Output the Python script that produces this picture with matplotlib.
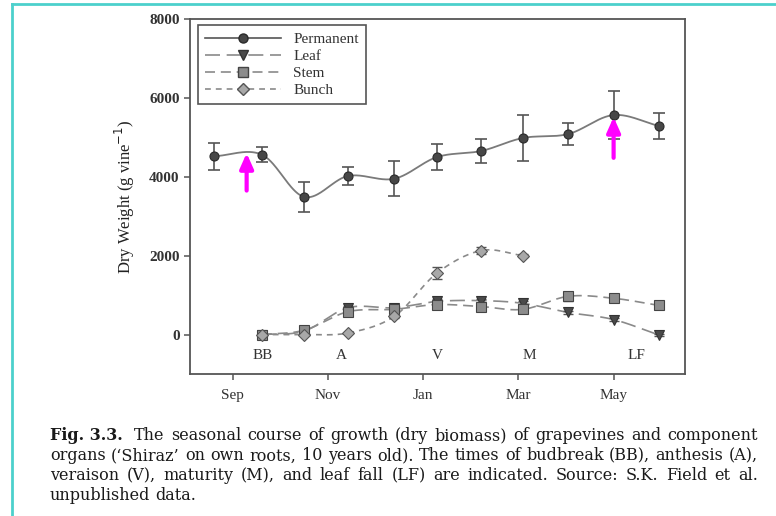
import numpy as np
import matplotlib
matplotlib.use("Agg")
import matplotlib.pyplot as plt

# ---------------- data ----------------
month_ticks = [0, 2, 4, 6, 8]
month_labels = ["Sep", "Nov", "Jan", "Mar", "May"]

perm_x = [-0.4, 0.61, 1.5, 2.42, 3.39, 4.29, 5.22, 6.1, 7.05, 8.0, 8.95]
perm_y = [4520, 4560, 3490, 4020, 3950, 4500, 4655, 4985, 5085, 5565, 5290]
perm_err = [340, 190, 390, 240, 440, 320, 315, 590, 280, 610, 330]

leaf_x = [0.61, 1.5, 2.42, 3.39, 4.29, 5.22, 6.1, 7.05, 8.0, 8.95]
leaf_y = [0, 90, 680, 680, 840, 860, 790, 560, 380, -10]
leaf_err = [0, 30, 40, 40, 50, 50, 60, 40, 40, 30]

stem_x = [0.61, 1.5, 2.42, 3.39, 4.29, 5.22, 6.1, 7.05, 8.0, 8.95]
stem_y = [0, 110, 580, 640, 760, 710, 640, 970, 920, 740]
stem_err = [0, 30, 40, 40, 40, 40, 50, 120, 40, 50]

bunch_x = [0.61, 1.5, 2.42, 3.39, 4.29, 5.22, 6.1]
bunch_y = [0, 0, 40, 460, 1560, 2130, 2000]
bunch_err = [0, 0, 0, 40, 150, 80, 40]

stage_labels = ["BB", "A", "V", "M", "LF"]
stage_x = [0.63, 2.27, 4.29, 6.23, 8.48]

arrow_x = [0.29, 8.0]
arrow_tip = [4600, 5515]
arrow_tail = [3650, 4480]

caption_lines = [
    ["Fig. 3.3.", "The seasonal course of growth (dry biomass) of grapevines and component"],
    ["", "organs (\u2018Shiraz\u2019 on own roots, 10 years old). The times of budbreak (BB), anthesis (A),"],
    ["", "veraison (V), maturity (M), and leaf fall (LF) are indicated. Source: S.K. Field et al."],
    ["", "unpublished data."],
]


def smooth_curve(x, y, n=40):
    """Catmull-Rom style curve through the given points (drawing only)."""
    x = np.asarray(x, float)
    y = np.asarray(y, float)
    k = len(x)
    mx = np.zeros(k)
    my = np.zeros(k)
    for i in range(k):
        a = max(i - 1, 0)
        b = min(i + 1, k - 1)
        mx[i] = (x[b] - x[a]) / (b - a) if b != a else 0
        my[i] = (y[b] - y[a]) / (b - a) if b != a else 0
    xs_all, ys_all = [], []
    t = np.linspace(0, 1, n)
    h00 = 2 * t ** 3 - 3 * t ** 2 + 1
    h10 = t ** 3 - 2 * t ** 2 + t
    h01 = -2 * t ** 3 + 3 * t ** 2
    h11 = t ** 3 - t ** 2
    for i in range(k - 1):
        xs_all.append(h00 * x[i] + h10 * mx[i] + h01 * x[i + 1] + h11 * mx[i + 1])
        ys_all.append(h00 * y[i] + h10 * my[i] + h01 * y[i + 1] + h11 * my[i + 1])
    return np.concatenate(xs_all), np.concatenate(ys_all)


W, H = 776, 516
fig = plt.figure(figsize=(W / 100, H / 100), dpi=100)
fig.patch.set_facecolor("white")

serif = ["Liberation Serif", "DejaVu Serif"]
plt.rcParams["font.family"] = serif

ax = fig.add_axes([190 / W, 1 - 374 / H, (685 - 190) / W, (374 - 19) / H])

spine_c = "#555555"
for s in ax.spines.values():
    s.set_color(spine_c)
    s.set_linewidth(1.3)

line_c = "#8a8a8a"

series = [
    ("Leaf", leaf_x, leaf_y, leaf_err, (0, (9, 4)), "v", "#4a4a4a", "#333333"),
    ("Stem", stem_x, stem_y, stem_err, (0, (6, 3.5)), "s", "#8c8c8c", "#444444"),
    ("Bunch", bunch_x, bunch_y, bunch_err, (0, (3.5, 3)), "D", "#a8a8a8", "#555555"),
]

handles = {}
xs, ys = smooth_curve(perm_x, perm_y)
ax.plot(xs, ys, color="#7a7a7a", lw=1.3, zorder=4)
ax.errorbar(perm_x, perm_y, yerr=perm_err, fmt="none", ecolor="#555555",
            elinewidth=1.2, capsize=4, capthick=1.2, zorder=5)
ax.plot(perm_x, perm_y, "o", ms=6.5, mfc="#474747", mec="#2a2a2a", mew=0.8, zorder=6)
handles["Permanent"] = ax.plot([], [], color="#555555", lw=1.2, marker="o", ms=6.5,
                               mfc="#474747", mec="#2a2a2a")[0]

for name, x, y, e, ls, mk, fc, ec in series:
    xs, ys = smooth_curve(x, y)
    ax.plot(xs, ys, color=line_c, lw=1.2, ls=ls, zorder=2)
    ax.errorbar(x, y, yerr=e, fmt="none", ecolor="#555555", elinewidth=1.0,
                capsize=3.5, capthick=1.0, zorder=3)
    ms = 6.5 if mk != "D" else 5.8
    ax.plot(x, y, mk, ms=ms, mfc=fc, mec=ec, mew=0.8, zorder=3)
    handles[name] = ax.plot([], [], color=line_c, lw=1.2, ls=ls, marker=mk, ms=ms,
                            mfc=fc, mec=ec)[0]

for lab, sx in zip(stage_labels, stage_x):
    ax.text(sx, -530, lab, ha="center", va="center", fontsize=11, color="#333333")

for axx, tip, tail in zip(arrow_x, arrow_tip, arrow_tail):
    ax.annotate("", xy=(axx, tip), xytext=(axx, tail),
                arrowprops=dict(arrowstyle="-|>,head_length=0.9,head_width=0.4",
                                color="#ff00ff", lw=3, shrinkA=0, shrinkB=0),
                zorder=8)

ax.set_xlim(-0.9, 9.5)
ax.set_ylim(-1000, 8000)
ax.set_xticks(month_ticks)
ax.set_xticklabels(month_labels)
ax.set_yticks([0, 2000, 4000, 6000, 8000])
ax.tick_params(axis="both", direction="out", length=4, width=1.1, color=spine_c,
               labelsize=11, labelcolor="#333333")
ax.tick_params(axis="x", pad=7)
for t in ax.get_yticklabels():
    t.set_fontweight("bold")
ax.set_ylabel("Dry Weight (g vine$^{-1}$)", fontsize=12, color="#222222", labelpad=9)

leg = ax.legend([handles[k] for k in ["Permanent", "Leaf", "Stem", "Bunch"]],
                ["Permanent", "Leaf", "Stem", "Bunch"],
                loc="upper left", bbox_to_anchor=(0.016, 0.982), fontsize=11,
                handlelength=5.0, handletextpad=0.8, labelspacing=0.22,
                fancybox=False, edgecolor="#555555", framealpha=1,
                borderpad=0.45, borderaxespad=0)
leg.get_frame().set_linewidth(1.2)
for t in leg.get_texts():
    t.set_color("#333333")

# teal border (top and left)
fig.add_artist(plt.Line2D([12 / W, 12 / W], [0, 1 - 4 / H], transform=fig.transFigure,
                          color="#4cd0cc", lw=2))
fig.add_artist(plt.Line2D([12 / W, 1], [1 - 4 / H, 1 - 4 / H], transform=fig.transFigure,
                          color="#4cd0cc", lw=2))

# caption, justified
fig.canvas.draw()
renderer = fig.canvas.get_renderer()
cap_font = ["DejaVu Serif"]
x0, x1 = 50, 758
line_y = [436, 456, 476, 496]

probe = fig.text(0, 0, caption_lines[1][1], fontsize=10, family=cap_font)
w10 = probe.get_window_extent(renderer).width
probe.remove()
cap_size = 10 * (x1 - x0) / w10 * 0.99

for li, (bold_part, rest) in enumerate(caption_lines):
    words = []
    if bold_part:
        words.append((bold_part, "bold"))
    words += [(w, "normal") for w in rest.split(" ")]
    texts = []
    for w, wt in words:
        t = fig.text(0, 1 - line_y[li] / H, w, fontsize=cap_size, fontweight=wt,
                     family=cap_font, color="#1a1a1a", va="center", ha="left")
        texts.append(t)
    widths = [t.get_window_extent(renderer).width for t in texts]
    last = li == len(caption_lines) - 1
    extra = renderer.points_to_pixels(cap_size) * 0.3 if bold_part else 0
    if last:
        sp = renderer.points_to_pixels(cap_size) * 0.32
    else:
        sp = (x1 - x0 - sum(widths) - extra) / (len(texts) - 1)
    x = x0
    for i, (t, w) in enumerate(zip(texts, widths)):
        t.set_x(x / W)
        x += w + sp
        if i == 0 and bold_part:
            x += extra

fig.savefig("out.png", dpi=100, facecolor="white")
